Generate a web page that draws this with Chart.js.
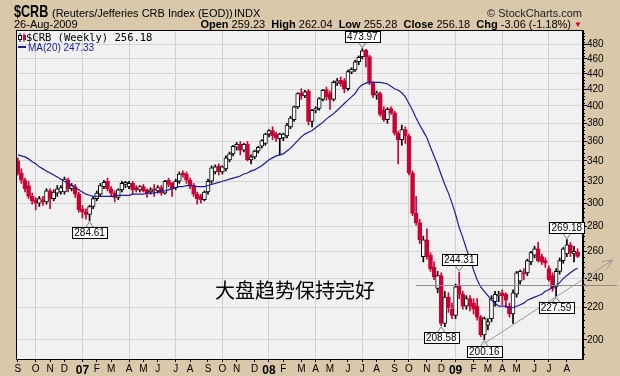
<!DOCTYPE html>
<html lang="en">
<head>
<meta charset="UTF-8">
<title>$CRB Weekly</title>
<script src="https://cdn.jsdelivr.net/npm/chart.js"></script>
<style>
  html, body { margin: 0; padding: 0; }
  body {
    width: 620px; height: 376px; position: relative; overflow: hidden;
    background: #d9c8a9;
    font-family: "Liberation Sans", Arial, sans-serif; color: #000;
  }
  #crbChart { position: absolute; left: 0; top: 0; }
  .t { position: absolute; white-space: nowrap; font-size: 11px; line-height: 12px; }
  #sym { left: 14px; top: 3px; font: bold 17px/17px "Liberation Sans", Arial, sans-serif; transform: scaleX(0.74); transform-origin: 0 0; }
  #name { left: 52px; top: 7px; }
  #exch { left: 234px; top: 7px; }
  #copy { right: 38px; top: 7px; color: #222; }
  #date { left: 14px; top: 18px; }
  #quote { right: 38px; top: 18px; }
  #quote b { font-weight: bold; }
  #quote .dn { color: #cc0033; font-size: 8px; vertical-align: 1px; }
  #leg1 { left: 18px; top: 31px; font: 10.5px/12px "DejaVu Sans Mono", monospace; }
  #leg2 { left: 18px; top: 42px; font-size: 10px; color: #1c1c9c; }
  #leg2 i { display: inline-block; width: 8px; height: 2px; background: #1c1c9c; vertical-align: 3px; margin-right: 2px; }
  #note { left: 215px; top: 280px; font: 20px/20px "Noto Sans CJK SC", sans-serif; }
</style>
</head>
<body>
<canvas id="crbChart" width="620" height="376"></canvas>

<div class="t" id="sym">$CRB</div>
<div class="t" id="name">(Reuters/Jefferies CRB Index (EOD))</div>
<div class="t" id="exch">INDX</div>
<div class="t" id="copy">&copy; StockCharts.com</div>
<div class="t" id="date">26-Aug-2009</div>
<div class="t" id="quote"><b>Open</b> 259.23 &nbsp;<b>High</b> 262.04 &nbsp;<b>Low</b> 255.28 &nbsp;<b>Close</b> 256.18 &nbsp;<b>Chg</b> -3.06 (-1.18%) <span class="dn">&#9660;</span></div>
<div class="t" id="leg1"><svg width="8" height="9" style="vertical-align:-1px"><line x1="2" y1="0" x2="2" y2="9" stroke="#000"/><rect x="0.5" y="2.5" width="3" height="4" fill="#fff" stroke="#000"/><line x1="6" y1="0" x2="6" y2="9" stroke="#cc0033"/><rect x="5" y="2" width="3" height="5" fill="#cc0033"/></svg>$CRB (Weekly) 256.18</div>
<div class="t" id="leg2"><i></i>MA(20) 247.33</div>
<div class="t" id="note">大盘趋势保持完好</div>

<script>
  // weekly bars, first week ends 1-Sep-2006, last is the week of 26-Aug-2009
  const opens = [
    340,328,321,316,306,303,300,303,301,311, 304,309,310,310,321,313,315,308,295,292,
    290,297,304,308,315,320,313,309,305,312, 317,315,318,314,312,315,312,310,313,311,
    314,309,321,318,314,320,328,327,321,316, 308,306,303,310,320,329,335,329,332,341,
    347,354,357,351,357,341,344,350,355,358, 368,372,368,363,364,366,376,384,399,416,
    412,418,382,395,397,408,420,415,408,428, 432,431,421,442,445,456,463,472,463,428,
    413,415,395,384,397,392,369,362,373,366, 328,291,283,256,269,257,248,233,242,210,
    227,219,215,235,229,221,226,223,221,214, 203,209,213,224,228,230,229,221,216,229,
    238,244,244,252,257,262,256,253,247,242, 234,245,253,258,265,258,259.23
  ];
  const highs = [
    343,332,323,320,309,305,306,306,313,313, 312,316,316,324,323,318,317,310,298,295,
    298,306,311,318,321,323,315,311,313,320, 320,320,320,316,316,317,313,314,317,316,
    316,321,323,319,322,329,330,329,323,318, 310,308,311,322,335,336,337,335,345,349,
    356,359,360,358,360,346,351,355,362,369, 373,376,370,369,369,380,388,400,416,421,
    419,420,396,399,410,420,423,418,431,434, 436,434,445,448,458,464,473.97,473,465,430,
    418,417,399,398,399,394,371,378,376,368, 330,306,286,272,278,259,252,245,244,231,
    230,223,236,244.31,231,228,228,226,226,215, 214,213,228,231,231,232,230,223,232,245,
    246,247,254,260,264,267,258,255,249,244, 247,255,263,269.18,267,264,262.04
  ];
  const lows = [
    326,318,310,304,299,294,297,298,299,295, 302,306,308,308,310,311,305,292,287,286,
    284.61,295,302,306,313,311,306,301,303,310, 314,313,308,310,310,310,305,308,306,309,
    307,308,315,306,312,318,324,318,313,306, 299,300,302,308,318,327,326,327,330,339,
    345,351,346,349,340,337,342,348,353,356, 365,362,360,346,361,364,374,382,397,408,
    410,378,376,392,395,406,407,396,406,425, 424,416,419,440,443,452,460,449,426,410,
    408,388,382,380,390,367,337,356,358,326, 289,281,266,252,254,245,239,230,208.58,208,
    217,213,213,226,219,219,218,216,212,202, 200.16,206,211,221,224,222,220,214,210,227,
    236,239,242,250,255,252,250,248,238,231, 227.59,243,251,256,256,252,255.28
  ];
  const closes = [
    328,321,313,306,302,300,304,301,311,304, 310,313,314,322,313,316,308,294,292,290,
    297,304,309,316,319,313,309,305,312,318, 319,318,312,312,315,311,309,312,312,314,
    309,320,317,313,320,327,326,321,316,308, 304,303,310,320,333,334,329,334,343,347,
    355,357,351,357,341,344,350,354,361,368, 372,366,364,368,368,378,386,399,415,412,
    417,382,395,397,409,419,411,408,429,431, 427,421,443,446,456,462,471,463,428,413,
    416,390,384,396,392,369,362,373,366,328, 291,283,269,269,256,247,241,242,210,227,
    220,215,234,229,221,226,221,219,214,203, 213,211,226,229,229,228,225,216,230,244,
    245,243,253,259,262,253,252,251,239,233, 245,253,262,265,259,260,256.18
  ];
  // MA(20) as drawn on the chart
  const ma20 = [
    346,345,344,342,339,337,334,332,330,328, 326,324,322,320,318,316,314,312,310,308,
    307,306,306,306,306,306,306,306,307,307, 307,307,308,308,308,308,309,309,309,310,
    311,311,312,313,314,315,315,316,316,316, 315,315,315,316,317,318,319,320,321,322,
    323,324,325,327,328,330,331,333,335,338, 341,343,345,346,347,350,353,357,361,365,
    368,370,372,375,378,381,385,388,391,395, 399,403,407,411,415,422,426,428,429,429,
    429,429,428,427,424,421,419,416,411,403, 395,386,378,371,364,354,345,336,326,317,
    309,300,290,279,271,262,254,246,239,234, 231,228,225,223,221,221,221,220,220,221,
    222,223,225,226,227,228,229,231,232,234, 235,237,240,242,244,246,247.33
  ];

  // x axis: week index of the first bar of each month, and its label
  const monthStarts = [0,5,9,13,18,22,26,31,35,39,44,48,53,57,61,66,70,74,79,83,87,92,96,100,105,109,114,118,122,127,131,135,139,144,148,153];
  const monthNames = ['S','O','N','D','07','F','M','A','M','J','J','A','S','O','N','D','08','F','M','A','M','J','J','A','S','O','N','D','09','F','M','A','M','J','J','A'];
  const priceTicks = [200,220,240,260,280,300,320,340,360,380,400,420,440,460,480];

  // annotations
  const callouts = [
    { i: 96, v: 473.97, up: true },
    { i: 20, v: 284.61, up: false },
    { i: 118, v: 208.58, up: false },
    { i: 123, v: 244.31, up: true },
    { i: 130, v: 200.16, up: false },
    { i: 153, v: 269.18, up: true },
    { i: 150, v: 227.59, up: false }
  ];
  const supportLevel = 235.4, supportFrom = 111;
  const trendFrom = [130.2, 198.2], trendTo = [165.8, 253.4];

  const RED = '#cc0033';
  const N = closes.length;
  const labels = Array.from({ length: N + 1 }, (_, i) => i);
  const monthLabel = new Map(monthStarts.map((w, k) => [w, monthNames[k]]));
  const quarterWeeks = new Set(monthStarts.filter((w, k) => (k - 1) % 3 === 0));
  const isUp = closes.map((c, i) => c >= opens[i]);

  const overlay = {
    id: 'overlay',
    beforeDraw(chart) {
      const { ctx, chartArea: a } = chart;
      ctx.save();
      ctx.fillStyle = '#f1f1f1';
      ctx.fillRect(a.left, a.top, a.right - a.left, a.bottom - a.top);
      ctx.restore();
    },
    afterDatasetsDraw(chart) {
      const { ctx, chartArea: a, scales: { x, y } } = chart;
      ctx.save();
      ctx.lineWidth = 1;

      // horizontal support line
      ctx.strokeStyle = '#8a8a8a';
      const hy = Math.round(y.getPixelForValue(supportLevel)) + 0.5;
      ctx.beginPath();
      ctx.moveTo(x.getPixelForValue(supportFrom), hy);
      ctx.lineTo(chart.width - 3, hy);
      ctx.stroke();

      // rising trend line with arrow
      const x1 = x.getPixelForValue(trendFrom[0]), y1 = y.getPixelForValue(trendFrom[1]);
      const x2 = x.getPixelForValue(trendTo[0]), y2 = y.getPixelForValue(trendTo[1]);
      const ang = Math.atan2(y2 - y1, x2 - x1);
      ctx.strokeStyle = '#9a9a9a';
      ctx.beginPath();
      ctx.moveTo(x1, y1); ctx.lineTo(x2, y2);
      ctx.moveTo(x2 - 11 * Math.cos(ang - 0.42), y2 - 11 * Math.sin(ang - 0.42));
      ctx.lineTo(x2, y2);
      ctx.lineTo(x2 - 11 * Math.cos(ang + 0.42), y2 - 11 * Math.sin(ang + 0.42));
      ctx.stroke();

      // minor ticks on the price axis
      ctx.strokeStyle = '#000';
      ctx.beginPath();
      for (let v = 192; v <= 500; v += 4) {
        if (v % 20 === 0) continue;
        const ty = Math.round(y.getPixelForValue(v)) + 0.5;
        ctx.moveTo(a.right, ty); ctx.lineTo(a.right + 2, ty);
      }
      ctx.stroke();

      // plot frame
      ctx.strokeRect(a.left + 0.5, a.top + 0.5, a.right - a.left - 1, a.bottom - a.top);

      // high / low callouts
      ctx.font = '10px "Liberation Sans", Arial, sans-serif';
      ctx.textAlign = 'center';
      ctx.textBaseline = 'middle';
      callouts.forEach(c => {
        const px = x.getPixelForValue(c.i), py = y.getPixelForValue(c.v);
        const txt = c.v.toFixed(2);
        const w = Math.round(ctx.measureText(txt).width) + 4, h = 11;
        const bx = Math.round(px - w / 2) + 0.5;
        const by = c.up ? Math.round(py - 7 - h) + 0.5 : Math.round(py + 6) + 0.5;
        const edge = c.up ? by + h : by;
        ctx.strokeStyle = '#808080';
        ctx.beginPath();
        ctx.moveTo(px - 4, edge); ctx.lineTo(px, py + (c.up ? -1 : 1)); ctx.lineTo(px + 4, edge);
        ctx.stroke();
        ctx.fillStyle = '#fff';
        ctx.fillRect(bx, by, w, h);
        ctx.strokeStyle = '#000';
        ctx.strokeRect(bx, by, w, h);
        ctx.fillStyle = '#000';
        ctx.fillText(txt, px, by + h / 2 + 0.5);
      });
      ctx.restore();
    }
  };

  Chart.defaults.font.family = '"Liberation Sans", Arial, sans-serif';

  new Chart(document.getElementById('crbChart'), {
    data: {
      labels: labels,
      datasets: [
        {
          type: 'line', label: 'MA(20)', data: ma20, order: 0,
          borderColor: '#1c1c9c', borderWidth: 1.2, pointRadius: 0, tension: 0
        },
        {
          type: 'bar', label: 'body', order: 1, grouped: false,
          data: closes.map((c, i) => [opens[i], c]),
          backgroundColor: isUp.map(u => u ? '#ffffff' : RED),
          borderColor: isUp.map(u => u ? '#000000' : RED),
          borderWidth: 1, borderSkipped: false, barThickness: 4, minBarLength: 1
        },
        {
          type: 'bar', label: 'wick', order: 2, grouped: false,
          data: highs.map((h, i) => [lows[i], h]),
          backgroundColor: isUp.map(u => u ? '#000000' : RED),
          borderWidth: 0, barThickness: 1
        }
      ]
    },
    options: {
      responsive: false,
      animation: false,
      devicePixelRatio: 1,
      layout: { padding: { left: 16, top: 30, right: 0, bottom: 0 } },
      plugins: { legend: { display: false }, tooltip: { enabled: false } },
      scales: {
        x: {
          type: 'category',
          offset: true,
          grid: {
            offset: false,
            color: ctx => quarterWeeks.has(ctx.index) ? '#cfcfcf' : 'rgba(0,0,0,0)',
            tickColor: ctx => monthLabel.has(ctx.index) ? '#000' : 'rgba(0,0,0,0)',
            tickLength: 3
          },
          border: { color: '#000' },
          ticks: {
            autoSkip: false, maxRotation: 0, minRotation: 0, padding: 1,
            color: '#000',
            callback: (v, i) => monthLabel.get(i) || '',
            font: ctx => (ctx.tick && /^\d/.test(ctx.tick.label))
              ? { size: 12, weight: 'bold' } : { size: 10 }
          },
          afterFit: s => { s.height = 17; }
        },
        y: {
          type: 'logarithmic',
          position: 'right',
          min: 189, max: 501,
          afterBuildTicks: s => { s.ticks = priceTicks.map(v => ({ value: v })); },
          ticks: { color: '#000', padding: 0, font: { size: 10 }, callback: v => String(v) },
          grid: { color: '#d4d4d4', tickColor: '#000', tickLength: 4 },
          border: { color: '#000' },
          afterFit: s => { s.width = 37; }
        }
      }
    },
    plugins: [overlay]
  });
</script>
</body>
</html>
